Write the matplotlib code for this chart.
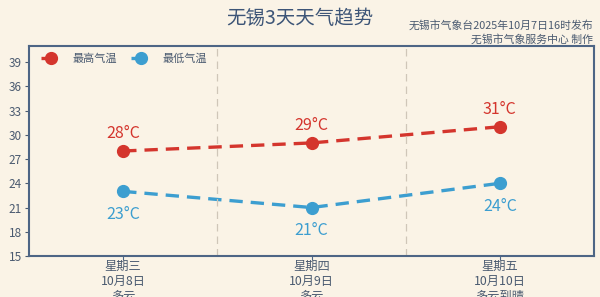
import matplotlib
matplotlib.use("Agg")
import matplotlib.pyplot as plt

plt.rcParams['font.family'] = ['Noto Sans CJK SC', 'DejaVu Sans']

days = ["星期三\n10月8日\n多云", "星期四\n10月9日\n多云", "星期五\n10月10日\n多云到晴"]
high = [28, 29, 31]
low = [23, 21, 24]
yticks = [15, 18, 21, 24, 27, 30, 33, 36, 39]

bg = "#faf3e6"
red = "#d4352d"
blue = "#3c9ed0"
spine = "#4d6585"
textc = "#4a5a70"

fig = plt.figure(figsize=(6, 2.97), dpi=100, facecolor=bg)
ax = fig.add_axes([29 / 600, 1 - 256 / 297, 565 / 600, 210 / 297], facecolor=bg)

x = list(range(len(days)))
ax.plot(x, high, color=red, lw=2.4, ls=(0, (4, 2.4)), marker="o", ms=8.5, label="最高气温")
ax.plot(x, low, color=blue, lw=2.4, ls=(0, (4, 2.4)), marker="o", ms=8.5, label="最低气温")

for xi, v in zip(x, high):
    ax.text(xi, v + 1.1, f"{v}°C", color=red, ha="center", va="bottom", fontsize=11.5, fontweight="light")
for xi, v in zip(x, low):
    ax.text(xi, v - 1.8, f"{v}°C", color=blue, ha="center", va="top", fontsize=11.5, fontweight="light")

for sep in [0.5, 1.5]:
    ax.axvline(sep, color="#cfc6b8", lw=0.9, ls=(0, (6, 4)))

ax.set_xlim(-0.5, 2.5)
ax.set_ylim(15, 41)
ax.set_yticks(yticks)
ax.set_xticks(x)
ax.set_xticklabels(days, fontsize=8.8, color=textc, linespacing=1.2)
ax.tick_params(axis="y", labelsize=8.5, colors=textc, length=3, pad=2)
ax.tick_params(axis="x", length=3, pad=0, colors=spine)
for lab in ax.get_xticklabels():
    lab.set_color(textc)
for s in ax.spines.values():
    s.set_color(spine)
    s.set_linewidth(1.5)

leg = ax.legend(loc="upper left", frameon=False, ncol=2, fontsize=8,
                handlelength=1.7, handletextpad=1.1, columnspacing=1.3,
                borderaxespad=0.3, bbox_to_anchor=(0.008, 1.0))
for t in leg.get_texts():
    t.set_color(textc)

fig.text(0.5, 1 - 18 / 297, "无锡3天天气趋势", ha="center", va="center", fontsize=14, color="#3d5577")
fig.text(593 / 600, 1 - 25 / 297, "无锡市气象台2025年10月7日16时发布", ha="right", va="center", fontsize=7.8, color=textc)
fig.text(593 / 600, 1 - 39 / 297, "无锡市气象服务中心 制作", ha="right", va="center", fontsize=7.8, color=textc)

fig.savefig("out.png", dpi=100, facecolor=bg)
